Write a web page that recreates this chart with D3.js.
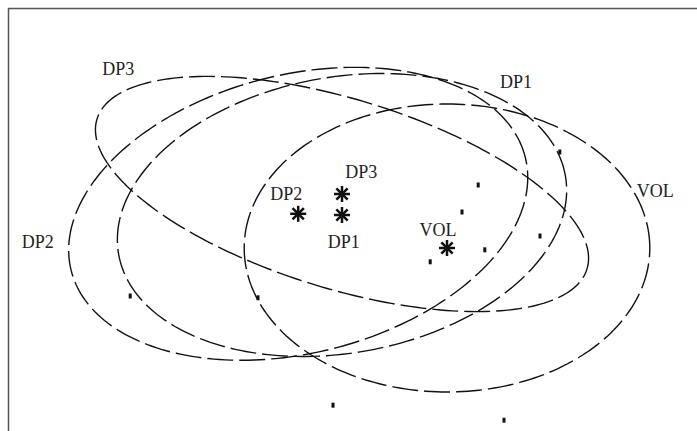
<!DOCTYPE html>
<html>
<head>
<meta charset="utf-8">
<script src="https://cdn.jsdelivr.net/npm/d3@7"></script>
<style>
  body { margin: 0; background: #fff; }
  .lbl { font-family: "Liberation Serif", "DejaVu Serif", serif; font-size: 18px; fill: #222; }
</style>
</head>
<body>
<div id="main"></div>
<script>

// dimensions
var svg_width = 697,
    svg_height = 431;

// groups: centroids and ellipse shape (data units)
var groups = ["DP1", "DP2", "DP3", "VOL"];
var center_x = [0.0, -0.73, 0.0, 1.75];
var center_y = [0.0, 0.02, 0.35, -0.55];
var semi_major = [3.78, 3.9, 4.27, 3.38];
var semi_minor = [2.3, 2.32, 1.58, 2.4];
var tilt_deg = [10, 14, -17, 0];

// label positions
var ring_label_x = [2.9, -5.07, -3.73, 5.22];
var ring_label_y = [2.12, -0.55, 2.33, 0.3];
var center_label_x = [0.03, -0.93, 0.32, 1.6];
var center_label_y = [-0.55, 0.25, 0.62, -0.35];

// stray marks
var spot_x = [2.0, 1.47, -1.4, -0.15, 2.7, 3.63, 2.27, -3.53, 2.38, 3.3];
var spot_y = [0.05, -0.78, -1.38, -3.17, -3.42, 1.05, 0.5, -1.35, -0.58, -0.35];

// set up svg
var svg = d3.select("#main").append("svg")
    .attr("width", svg_width)
    .attr("height", svg_height);

var xScale = d3.scaleLinear().domain([-5.7, 5.9]).range([0, 696]);
var yScale = d3.scaleLinear().domain([215 / 60, -216 / 60]).range([0, 431]);

// frame (left + top only)
svg.append("path")
    .attr("d", "M8.5," + svg_height + "V8.5H" + svg_width)
    .attr("fill", "none")
    .attr("stroke", "#555")
    .attr("stroke-width", 1.5);

/** ellipses **/
var line = d3.line()
    .x(function(d) { return xScale(d[0]); })
    .y(function(d) { return yScale(d[1]); })
    .curve(d3.curveLinearClosed);

var rings = groups.map(function(g, i) {
    var th = tilt_deg[i] * Math.PI / 180;
    return d3.range(0, 240).map(function(k) {
        var t = k / 240 * 2 * Math.PI;
        var u = semi_major[i] * Math.cos(t), v = semi_minor[i] * Math.sin(t);
        return [center_x[i] + u * Math.cos(th) - v * Math.sin(th),
                center_y[i] + u * Math.sin(th) + v * Math.cos(th)];
    });
});

svg.selectAll(".ring")
    .data(rings)
    .enter()
    .append("path")
    .attr("class", "ring")
    .attr("d", line)
    .attr("fill", "none")
    .attr("stroke", "#111")
    .attr("stroke-width", 1.4)
    .attr("stroke-dasharray", "26,6");

/** centroids **/
groups.forEach(function(g, i) {
    var cx = xScale(center_x[i]), cy = yScale(center_y[i]);
    [0, 45, 90, 135].forEach(function(a) {
        var r = 8, ang = a * Math.PI / 180;
        svg.append("line")
            .attr("x1", cx - r * Math.cos(ang)).attr("y1", cy - r * Math.sin(ang))
            .attr("x2", cx + r * Math.cos(ang)).attr("y2", cy + r * Math.sin(ang))
            .attr("stroke", "#111")
            .attr("stroke-width", 2.5);
    });
});

/** stray marks **/
svg.selectAll(".spot")
    .data(spot_x)
    .enter()
    .append("rect")
    .attr("class", "spot")
    .attr("x", function(d) { return xScale(d) - 1.5; })
    .attr("y", function(d, i) { return yScale(spot_y[i]) - 2.5; })
    .attr("width", 3)
    .attr("height", 5)
    .attr("fill", "#111");

/** labels **/
svg.selectAll(".ring-label")
    .data(groups)
    .enter()
    .append("text")
    .attr("class", "lbl")
    .attr("text-anchor", "middle")
    .attr("x", function(d, i) { return xScale(ring_label_x[i]); })
    .attr("y", function(d, i) { return yScale(ring_label_y[i]); })
    .text(function(d) { return d; });

svg.selectAll(".center-label")
    .data(groups)
    .enter()
    .append("text")
    .attr("class", "lbl")
    .attr("text-anchor", "middle")
    .attr("x", function(d, i) { return xScale(center_label_x[i]); })
    .attr("y", function(d, i) { return yScale(center_label_y[i]); })
    .text(function(d) { return d; });

</script>
</body>
</html>
